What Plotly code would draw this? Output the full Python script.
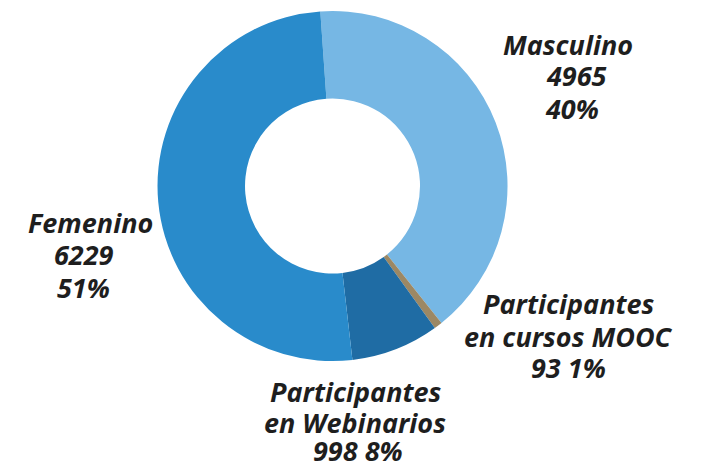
import plotly.graph_objects as go

labels = ["Masculino", "Participantes en cursos MOOC", "Participantes en Webinarios", "Femenino"]
values = [4965, 93, 998, 6229]
percents = ["40%", "1%", "8%", "51%"]
colors = ["#76B7E4", "#9C8864", "#1F6CA4", "#298BCB"]

# label text lines for each slice (the last line holds value and percent)
label_lines = [
    ["Masculino", "4965", "40%"],
    ["Participantes", "en cursos MOOC", "93 1%"],
    ["Participantes", "en Webinarios", "998 8%"],
    ["Femenino", "6229", "51%"],
]
# pixel positions (x center, y center from top) of each label line
line_pos = [
    [(568, 44), (576, 76), (572, 108)],
    [(569, 303), (568, 336), (568, 367)],
    [(356, 391), (355, 422), (358, 450)],
    [(90, 222), (84, 255), (83, 287)],
]

W, H = 703, 468

fig = go.Figure()
fig.add_trace(go.Pie(
    labels=labels,
    values=values,
    hole=0.5,
    sort=False,
    direction="clockwise",
    rotation=-4,
    marker=dict(colors=colors, line=dict(width=0)),
    textinfo="none",
    hoverinfo="label+value+percent",
    showlegend=False,
    domain=dict(x=[0.224, 0.722], y=[0.2286, 0.9765]),
))

for lines, poss in zip(label_lines, line_pos):
    for txt, (px, py) in zip(lines, poss):
        fig.add_annotation(
            x=px / W, y=1 - py / H, xref="paper", yref="paper",
            text="<b><i>" + txt + "</i></b>",
            showarrow=False, xanchor="center", yanchor="middle", align="center",
            borderpad=0,
            font=dict(family="Open Sans", size=27, color="#1E1E1E"),
        )

fig.update_layout(
    width=W, height=H,
    margin=dict(l=0, r=0, t=0, b=0),
    paper_bgcolor="white", plot_bgcolor="white",
)

fig.write_html("out.html", config={"displayModeBar": False},
               post_script="document.body.style.margin='0';")
